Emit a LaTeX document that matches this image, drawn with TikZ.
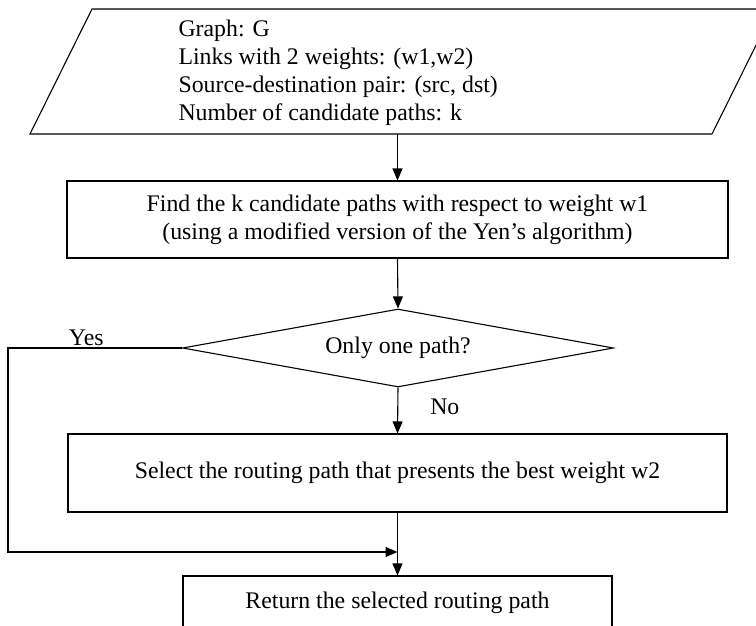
\documentclass[tikz,border=0pt]{standalone}
\usepackage{fontspec}
\setmainfont{Liberation Serif}
\usetikzlibrary{shapes.geometric,arrows.meta,positioning}

\begin{document}
\begin{tikzpicture}[x=1pt, y=-1pt, line width=1.1pt,
    font=\fontsize{23.8}{28}\selectfont,
    boite/.style={draw, rectangle, align=center, inner sep=0pt},
    fleche/.style={-{Triangle[length=12pt,width=10pt]}}]
    % Cadre
    \useasboundingbox (0,0) rectangle (756,626);
    \clip (0,0) rectangle (756,626);

    % Entrée
    \draw (92,9) -- (774,9) -- (712,134) -- (30,134) -- cycle;
    \coordinate (entree) at (397.5,134);
    \node[anchor=north west, align=left, inner sep=0pt] (donnees) at (178,19.5)
        {Graph: G\\Links with 2 weights: (w1,w2)\\Source-destination pair: (src, dst)\\Number of candidate paths: k};

    % Etapes
    \node[boite, minimum width=661pt, minimum height=77pt] (chemins) at (397.5,219.5)
        {Find the k candidate paths with respect to weight w1\\(using a modified version of the Yen's algorithm)};
    \node[draw, diamond, aspect=5.5, inner sep=0pt, minimum width=431pt,
        minimum height=78pt] (test) at (398,348) {Only one path?};
    \node[boite, minimum width=659pt, minimum height=78pt] (choix) at (397.5,473)
        {Select the routing path that presents the best weight w2};
    \node[boite, minimum width=429pt, minimum height=54pt] (retour) at (397.5,603)
        {Return the selected routing path};

    % Fleches
    \coordinate (oui) at (8,348);
    \coordinate (jonction) at (397.5,552);
    \draw[fleche] (entree) -- (chemins.north);
    \draw[fleche] (chemins.south) -- (test.north);
    \draw[fleche] (test.south) -- node[anchor=west, inner sep=0pt, xshift=32pt, yshift=4pt] {No} (choix.north);
    \draw[fleche] (test.west) -- node[pos=0.55, above, inner sep=2pt] {Yes} (oui) |- (jonction);
    \draw[fleche] (choix.south) -- (retour.north);
\end{tikzpicture}
\end{document}
